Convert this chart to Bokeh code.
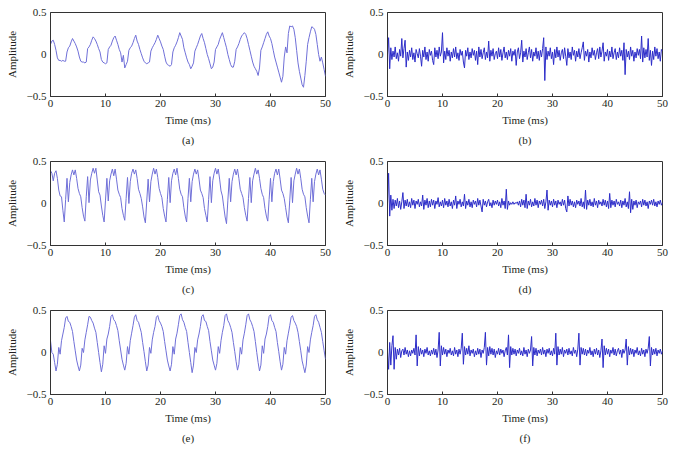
import numpy as np
from bokeh.plotting import figure
from bokeh.layouts import column, row
from bokeh.models import Title, FixedTicker, Range1d
from bokeh.embed import file_html
from bokeh.resources import INLINE

# ---------------- data (amplitude x 100) ----------------
# smooth panels sampled every 0.25 ms, noisy panels every 0.2 ms (0 .. 50 ms)
dt_smooth = 0.25
dt_noise = 0.2

amp_a = [12, 16, 17, 12, 5, -4, -7, -7, -8, -7, -8, -8, 3, 8, 10, 15,
         19, 16, 13, 9, 4, -3, -8, -9, -9, -10, -9, 7, 9, 12, 17, 21,
         19, 16, 12, 7, 3, -6, -9, -10, -11, -10, 6, 9, 11, 16, 20, 22,
         17, 12, 6, 2, -9, -1, -16, -12, -8, 5, 8, 10, 14, 19, 23, 16,
         12, 6, 1, -4, -8, -10, -11, -10, -9, 4, 8, 11, 14, 18, 23, 19,
         15, 10, 6, -2, -9, -12, -13, -14, -12, 3, 8, 11, 15, 20, 26, 22,
         18, 8, 2, -4, -9, -12, -17, -14, -10, 4, 8, 12, 17, 22, 25, 19,
         14, 7, 0, -5, -11, -17, -15, -9, 6, 9, 12, 18, 22, 26, 20, 14,
         8, 0, -6, -12, -15, -15, -8, 6, 9, 13, 18, 22, 24, 26, 24, 19,
         12, 5, -2, -9, -14, -17, -20, -25, -16, 5, 9, 14, 19, 24, 27, 22,
         19, 13, 5, -3, -9, -15, -21, -27, -33, -26, -3, 9, 2, 25, 34, 33,
         34, 30, 20, 5, -10, -20, -28, -36, -39, -25, -8, 12, 20, 27, 33, 32,
         30, 24, 12, 0, -8, -3, -10, -18, -26]

amp_c = [39, 36, 27, 36, 39, 30, 16, 9, 8, -8,
         -22, 5, 30, 2, 25, 34, 40, 34, 40, 30, 18, 12, 8, -5, -15,
         -21, 8, 32, 1, 28, 36, 42, 36, 42, 28, 14, 10, -3, -14,
         -22, 4, 30, 3, 27, 35, 41, 33, 41, 29, 16, 11, 7, -6, -14,
         -20, 6, 31, 0, 26, 36, 41, 35, 40, 30, 17, 12, 6, -4, -16,
         -23, 3, 29, 2, 26, 35, 42, 35, 41, 31, 18, 12, 7, -6, -15,
         -22, 5, 31, 1, 27, 36, 41, 34, 42, 30, 17, 11, 8, -5, -15,
         -22, 6, 30, 2, 26, 35, 41, 35, 40, 29, 16, 12, 7, -6, -14,
         -22, 5, 32, 1, 27, 36, 42, 35, 41, 29, 15, 9, -4, -16,
         -24, 4, 30, 2, 26, 35, 41, 34, 41, 30, 17, 12, 7, -5, -14,
         -21, 6, 31, 1, 27, 35, 42, 35, 40, 30, 18, 11, 7, -6, -15,
         -21, 5, 30, 2, 26, 36, 41, 34, 41, 29, 16, 12, 6, -5, -16,
         -23, 4, 31, 1, 27, 35, 42, 35, 41, 30, 17, 11, 8, -5, -15,
         -23, 5, 30, 2, 26, 35, 41, 34, 40, 29, 17, 12, 10]

amp_e = [14, 0, -2, -12,
         -22, -14, 6, -2, 14, 22, 30, 41, 43, 37, 36, 31, 25, 13, 2, -9, -16,
         -22, -15, 5, 0, 15, 24, 33, 43, 42, 38, 35, 29, 24, 12, 0, -12,
         -23, -14, 8, -1, 16, 22, 31, 43, 45, 39, 37, 32, 26, 14, 3, -8, -15,
         -21, -13, 7, -2, 14, 23, 32, 42, 45, 38, 36, 30, 24, 12, 1, -11,
         -22, -15, 6, -1, 15, 24, 31, 42, 44, 38, 35, 31, 25, 13, 2, -9, -16,
         -22, -14, 7, -2, 16, 23, 33, 44, 46, 39, 36, 30, 25, 12, 0, -12,
         -24, -15, 6, 0, 15, 22, 31, 43, 45, 38, 37, 31, 26, 13, 2, -9, -15,
         -21, -13, 7, -1, 14, 24, 32, 44, 46, 38, 35, 30, 24, 12, 1, -11,
         -21, -14, 6, -2, 15, 23, 33, 44, 46, 39, 36, 31, 25, 13, 0, -12,
         -22, -15, 8, -1, 16, 22, 31, 43, 45, 38, 36, 30, 25, 12, 1, -11,
         -21, -14, 6, -2, 14, 23, 32, 42, 44, 38, 35, 31, 24, 13, 2, -10, -17,
         -24, -15, 7, 0, 15, 24, 32, 43, 45, 39, 36, 30, 24, 13, 2, -8]

amp_b = [0, 20, -17, 8, -6, 4, -3, 9, -5, 2,
         -8, 6, -2, 19, -4, 7, 17, -15, 3, -7,
         5, -3, 8, -6, 2, -9, 6, 1, -4, 7,
         -2, -14, 5, -3, 9, -6, 3, -8, 6, -1,
         4, -7, -12, 8, -3, 5, -5, 9, -2, 3,
         26, -10, 4, -6, 8, -2, 5, -8, 3, -4,
         7, -3, 9, -5, 2, -7, 6, -1, 4, -9,
         -16, 5, -2, 8, -6, 3, -4, 7, -1, 5,
         -7, 4, -12, 9, -3, 6, -5, 2, 8, -6,
         3, -4, 16, -8, 5, -2, 7, -6, 1, 4,
         -5, 8, -3, 6, -7, 2, 9, -4, 3, -6,
         5, -2, 7, -8, 4, -1, 6, -13, 3, 8,
         -5, 2, 17, -9, 4, -3, 7, -6, 2, 9,
         -4, 6, -8, 3, -2, 8, -5, 4, -7, 5,
         -3, 7, 20, -31, 9, -6, 4, -2, 8, -5,
         3, -12, 6, -4, 9, -3, 5, -7, 2, 6,
         -5, 8, -2, -13, 7, -4, 3, -6, 9, -1,
         5, -8, 4, -3, 7, -5, 2, 8, 15, -7,
         4, -2, 6, -9, 3, -4, 8, -1, 5, -6,
         2, 7, -5, 9, -3, 4, 14, -8, 3, -2,
         6, -7, 4, -3, 9, -5, 2, 7, -6, 3,
         -4, 8, -2, 5, -7, 14, -24, 6, -3, 4,
         -6, 9, -2, 5, -8, 3, -4, 7, -1, 6,
         -5, 22, -9, 8, -4, 6, -3, 19, -7, 5,
         -13, 4, -6, 9, -2, 7, -5, 3, -8, 6,
         4]

amp_d = [0, 36, -15, 10, -8, 5, -6, 4, -3, 6,
         -5, 3, -7, 2, 13, -6, 4, -3, 5, -4,
         2, -5, 6, -2, 4, -6, 3, -1, 5, -4,
         2, -3, 10, -7, 4, -2, 6, -5, 3, -4,
         5, -2, 4, -6, 3, -1, 7, -4, 2, -3,
         4, -5, 6, -2, 3, -4, 5, -3, 2, -6,
         4, -2, 9, -6, 3, -1, 5, -4, 2, -3,
         11, -6, 3, -2, 5, -4, 2, -5, 4, -1,
         3, -4, 6, -2, 4, -3, -10, 5, -2, 3,
         -4, 2, 5, -3, 1, -5, 4, -2, 3, -1,
         4, -3, 2, -5, 6, -2, 3, -6, 17, -7,
         3, -2, 1, -1, 2, -1, 1, 0, 2, -2,
         3, -4, 5, -2, 4, -5, 11, -6, 3, -2,
         5, -4, 2, -3, 6, -2, 4, -5, 3, -1,
         4, -3, 5, -6, 2, 16, -8, 4, -2, 3,
         -4, 5, -2, 3, -5, 4, -1, 2, -3, 5,
         -2, 4, -6, -10, 9, -3, 5, -2, 3, -4,
         2, -5, 4, -1, 3, -3, 6, -4, 2, -6,
         16, -7, 4, -2, 5, -3, 2, -4, 6, -2,
         3, -5, 4, -1, 2, -3, 5, -2, 4, -4,
         3, -6, 12, -5, 4, -2, 3, -4, 5, -1,
         2, -3, 4, -5, 3, -2, 6, -4, 2, -6,
         14, -11, 5, -7, 3, -2, 4, -5, 2, -1,
         3, -4, 5, -2, 4, -3, 2, -6, 3, -1,
         4, -2, 5, -3, 2, -4, 3, -1, 4, -2,
         1]

amp_f = [0, -20, 12, -15, 8, 20, -20, 6, -8, 4,
         -3, 5, -6, 2, 4, -3, 6, -2, 3, -5,
         2, -4, 3, -1, 5, -3, 21, -16, 7, -4,
         5, -2, 3, -5, 4, -1, 6, -3, 2, -4,
         3, -2, 5, -3, 4, -6, 3, 24, -16, 8,
         -3, 6, -2, 4, -5, 3, -1, 5, -3, 2,
         -4, 6, -2, 3, -5, 4, -2, 5, 23, -14,
         7, -3, 5, -2, 8, -4, 3, -1, 4, -5,
         2, -3, 5, -2, 4, -6, 3, -1, 6, 24,
         -15, 6, -4, 7, -2, 5, -3, 4, -6, 2,
         -2, 5, -3, 4, -1, 3, -5, 2, 6, -3,
         21, -18, 7, -3, 5, -2, 4, -4, 3, -1,
         5, -3, 2, -4, 6, -2, 3, -5, 4, -1,
         3, 19, -16, 6, -3, 5, -4, 3, -1, 4,
         -3, 6, -2, 3, -5, 4, -1, 5, -3, 2,
         -4, 5, -2, 23, -15, 7, -3, 4, -2, 6,
         -5, 3, -1, 4, -3, 5, -2, 2, -4, 6,
         -1, 3, -5, 4, 23, -15, 6, -2, 5, -3,
         4, -4, 3, -1, 6, -3, 2, -5, 4, -2,
         5, -3, 3, -6, 2, 16, -18, 8, -3, 5,
         -2, 4, -5, 3, -1, 6, -3, 4, -4, 2,
         5, -2, 3, -6, 4, -1, 3, 16, -15, 7,
         -3, 5, -2, 4, -5, 3, -1, 6, -3, 2,
         -4, 5, -2, 3, -5, 4, -1, 5, 19, -16,
         6, -3, 4, -2, 5, -4, 3, -1, 4, -2,
         2]

captions = ["(a)", "(b)", "(c)", "(d)", "(e)", "(f)"]
x_ticks = [0, 10, 20, 30, 40, 50]
y_ticks = [-0.5, 0, 0.5]
y_tick_labels = {-0.5: "\u22120.5", 0: "0", 0.5: "0.5"}

# ---------------- styling ----------------
FONT = "Liberation Serif"
TXT = "#231f20"
SMOOTH = "#7070d8"
NOISY = "#2c2cc8"


def panel(vals, dt, color, caption):
    y = np.array(vals, dtype=float) / 100.0
    t = np.arange(len(y)) * dt
    p = figure(frame_width=275, frame_height=84,
               min_border_left=50, min_border_right=12,
               min_border_top=12, min_border_bottom=53,
               x_range=Range1d(0, 50), y_range=Range1d(-0.5, 0.5),
               output_backend="svg", toolbar_location=None)
    p.line(t, y, line_color=color, line_width=1)
    p.grid.visible = False
    p.outline_line_color = "#333333"
    p.outline_line_width = 1
    p.background_fill_color = "white"
    p.border_fill_color = "white"

    xa = p.xaxis[0]
    xa.ticker = FixedTicker(ticks=x_ticks)
    xa.axis_label = "Time (ms)"
    xa.major_tick_in = 3
    xa.major_tick_out = 0
    xa.minor_tick_in = 0
    xa.minor_tick_out = 0
    xa.major_label_standoff = 3
    xa.axis_label_standoff = 4

    ya = p.yaxis[0]
    ya.ticker = FixedTicker(ticks=y_ticks)
    ya.major_label_overrides = y_tick_labels
    ya.axis_label = "Amplitude"
    ya.major_tick_in = 0
    ya.major_tick_out = 0
    ya.minor_tick_in = 0
    ya.minor_tick_out = 0
    ya.major_label_standoff = 4
    ya.axis_label_standoff = 6

    for ax in (xa, ya):
        ax.axis_line_color = "#333333"
        ax.major_tick_line_color = "#333333"
        ax.major_label_text_font = FONT
        ax.major_label_text_font_size = "11px"
        ax.major_label_text_color = TXT
        ax.axis_label_text_font = FONT
        ax.axis_label_text_font_size = "11px"
        ax.axis_label_text_font_style = "normal"
        ax.axis_label_text_color = TXT

    p.add_layout(Title(text=caption, align="center", text_font=FONT,
                       text_font_size="11px", text_font_style="normal",
                       text_color=TXT, standoff=6), "below")
    return p


pa = panel(amp_a, dt_smooth, SMOOTH, captions[0])
pb = panel(amp_b, dt_noise, NOISY, captions[1])
pc = panel(amp_c, dt_smooth, SMOOTH, captions[2])
pd = panel(amp_d, dt_noise, NOISY, captions[3])
pe = panel(amp_e, dt_smooth, SMOOTH, captions[4])
pf = panel(amp_f, dt_noise, NOISY, captions[5])

layout = column(row(pa, pb), row(pc, pd), row(pe, pf))

open("out.html", "w").write(file_html(layout, INLINE))
